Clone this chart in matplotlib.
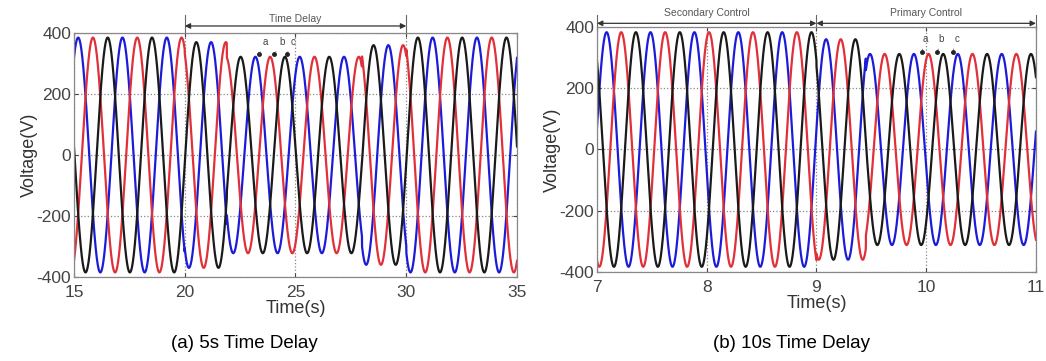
import numpy as np
import matplotlib.pyplot as plt

plt.rcParams['font.family'] = ['Liberation Sans', 'DejaVu Sans']
plt.rcParams['axes.unicode_minus'] = False

# ---- data ----
# (a) 5s time delay: phase-voltage envelope per segment
a_edges = [15.0, 20.0, 21.9, 28.0, 30.0, 35.0]
a_amp = [385, 370, 322, 360, 385]
a_period = 2.0
a_blue_peak = 15.19

# (b) 10s time delay
b_edges = [7.0, 9.0, 9.45, 11.0]
b_amp = [383, 360, 312]
b_period = 0.4
b_blue_peak = 7.088

phase_names = ['a', 'b', 'c']
phase_colors = ['#1c1cd8', '#e0303a', '#1a1a1a']
phase_shift = [0.0, 1 / 3, 2 / 3]  # fraction of period

a_labels_t = [23.62, 24.38, 24.89]
a_points_t = [23.35, 24.05, 24.6]
b_labels_t = [9.99, 10.14, 10.28]
b_points_t = [9.96, 10.10, 10.24]


def amplitude(t, edges, amps):
    idx = np.clip(np.searchsorted(edges, t, side='right') - 1, 0, len(amps) - 1)
    return np.asarray(amps)[idx]


def style(ax, xlim, xticks):
    ax.set_xlim(*xlim)
    ax.set_ylim(-400, 400)
    ax.set_xticks(xticks)
    ax.set_yticks([-400, -200, 0, 200, 400])
    ax.grid(True, ls=':', color='#888888', lw=0.9)
    ax.tick_params(direction='in', length=3, labelsize=12.5, colors='#444444',
                   top=True, right=True)
    ax.tick_params(axis='x', pad=6)
    ax.tick_params(axis='y', pad=2)
    for s in ax.spines.values():
        s.set_color('#888888')
        s.set_linewidth(0.9)
    ax.set_xlabel('Time(s)', fontsize=13, color='#333333', labelpad=0)
    ax.set_ylabel('Voltage(V)', fontsize=13, color='#333333', labelpad=-1)


def span_arrow(ax, x0, x1, y, text, ty):
    ax.annotate('', xy=(x0, y), xytext=(x1, y), xycoords='data',
                arrowprops=dict(arrowstyle='<|-|>', color='#333333', lw=0.9,
                                mutation_scale=8, shrinkA=0, shrinkB=0),
                annotation_clip=False)
    ax.text((x0 + x1) / 2, ty, text, ha='center', va='center', fontsize=7.5,
            color='#555555', clip_on=False)


fig = plt.figure(figsize=(10.46, 3.61), dpi=100)
ax1 = fig.add_axes([0.0707, 0.2327, 0.4236, 0.6759])
ax2 = fig.add_axes([0.5707, 0.2466, 0.4197, 0.6786])

# ---- panel (a) ----
t = np.linspace(15, 35, 6000)
env = amplitude(t, a_edges, a_amp)
for k in range(3):
    v = env * np.cos(2 * np.pi * ((t - a_blue_peak) / a_period - phase_shift[k]))
    ax1.plot(t, v, color=phase_colors[k], lw=1.6)
style(ax1, (15, 35), [15, 20, 25, 30, 35])
for xv in [20, 30]:
    ax1.plot([xv, xv], [400, 460], color='#666666', lw=0.8, clip_on=False)
span_arrow(ax1, 20, 30, 423, 'Time Delay', 445)
for name, lt, pt in zip(phase_names, a_labels_t, a_points_t):
    ax1.annotate(name, xy=(pt, 330), xytext=(lt, 372), fontsize=7,
                 color='#444444', ha='center', va='center',
                 arrowprops=dict(arrowstyle='-', color='#444444', lw=0.6))
    ax1.plot(pt, 330, 'o', ms=2.5, color='#222222')

# ---- panel (b) ----
t = np.linspace(7, 11, 6000)
env = amplitude(t, b_edges, b_amp)
for k in range(3):
    v = env * np.cos(2 * np.pi * ((t - b_blue_peak) / b_period - phase_shift[k]))
    ax2.plot(t, v, color=phase_colors[k], lw=1.6)
style(ax2, (7, 11), [7, 8, 9, 10, 11])
for xv in [7, 9, 11]:
    ax2.plot([xv, xv], [400, 440], color='#666666', lw=0.8, clip_on=False)
span_arrow(ax2, 7, 9, 412, 'Secondary Control', 445)
span_arrow(ax2, 9, 11, 412, 'Primary Control', 445)
for name, lt, pt in zip(phase_names, b_labels_t, b_points_t):
    ax2.annotate(name, xy=(pt, 318), xytext=(lt, 362), fontsize=7,
                 color='#444444', ha='center', va='center',
                 arrowprops=dict(arrowstyle='-', color='#444444', lw=0.6))
    ax2.plot(pt, 318, 'o', ms=2.5, color='#222222')

fig.text(0.234, 0.048, '(a) 5s Time Delay', ha='center', va='center', fontsize=13.5)
fig.text(0.757, 0.048, '(b) 10s Time Delay', ha='center', va='center', fontsize=13.5)

fig.savefig('out.png', dpi=100)
